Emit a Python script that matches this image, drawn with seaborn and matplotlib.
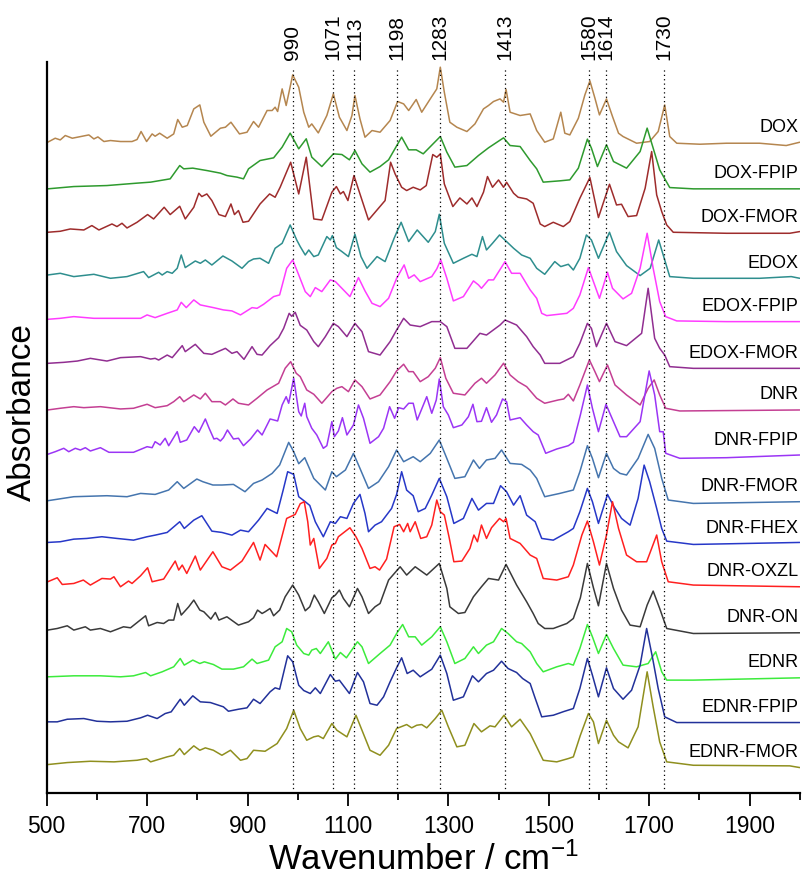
import numpy as np
import pandas as pd
import matplotlib
matplotlib.use("Agg")
import matplotlib.pyplot as plt
import seaborn as sns

# spectra: (wavenumber / cm-1, height above the trace baseline)
dox = [(502,0),(517,4),(527,2.3),(537,6.7),(551,4),(584,7.3),(594,3.3),(602,5.3),(614,0.7),(627,1.7),(647,0.7),(670,0.7),(680,2.7),(688,10.7),(699,0.7),(710,8.3),(716,6),(725,9),(740,4),(753,8.3),(761,22.7),(770,15),(780,16.7),(793,33.3),(805,37.3),(813,20),(827,6),(846,14),(856,15),(867,20),(884,8.3),(899,10),(912,20.7),(922,15),(939,31.7),(949,31.7),(955,35),(960,30.7),(969,53.3),(977,36.7),(990,67.3),(1002,55),(1012,30),(1022,15),(1028,18.3),(1041,9.3),(1058,26.7),(1071,48.3),(1083,25),(1098,11.7),(1108,26.7),(1114,46.7),(1124,23.3),(1134,5),(1148,11.7),(1164,10),(1184,21.7),(1199,40.7),(1211,38.3),(1221,31.7),(1236,42.7),(1247,30),(1264,43.3),(1277,53.3),(1284,75),(1292,50),(1303,20),(1317,15),(1337,10.7),(1353,18.3),(1370,33.3),(1380,36.7),(1390,40.7),(1403,43.3),(1410,40),(1415,52.7),(1423,30),(1443,26.7),(1463,28.3),(1476,11.7),(1492,0),(1509,3.3),(1524,30),(1532,9),(1542,7.3),(1559,24),(1572,47.3),(1582,61.3),(1592,44),(1601,27.3),(1615,43.3),(1627,25.7),(1639,9),(1648,5.7),(1675,-1),(1701,0.7),(1718,10.7),(1731,37.3),(1741,5.7),(1755,-1),(1801,-2),(1854,-1),(1920,-1),(1973,-3.3),(2000,0)]
dox_fpip = [(502,0),(554,2.3),(620,3.3),(680,5.7),(707,6.7),(746,10),(765,23.3),(773,20),(791,20.7),(819,18.3),(846,15.7),(859,13.3),(879,11.7),(892,10),(902,20),(925,28.3),(952,31),(969,41.7),(985,55.7),(1002,40),(1017,50),(1028,31.7),(1048,22.3),(1071,35),(1088,34.3),(1103,29),(1114,38.3),(1128,25),(1144,16.7),(1164,22.3),(1181,29),(1207,51.7),(1221,39),(1236,39),(1250,35),(1284,52.3),(1297,36.7),(1313,21.7),(1337,23.3),(1360,33.3),(1380,41),(1410,51),(1423,43.3),(1443,42.3),(1463,28.3),(1476,20),(1489,6.7),(1522,8),(1542,9),(1559,20.7),(1577,49.7),(1585,40.7),(1597,22.3),(1615,44),(1629,27.3),(1655,20.7),(1682,37.3),(1696,60.7),(1708,40.7),(1721,19),(1741,1.3),(1788,0),(1980,0),(2000,0)]
dox_fmor = [(502,0),(527,1),(547,3.3),(574,2.3),(590,6.7),(604,2.3),(630,8.3),(640,5.7),(650,9),(660,4.3),(680,10),(701,17.7),(713,13.3),(734,25),(746,17.7),(765,26),(776,13.3),(793,25),(803,39),(809,35.7),(819,38.3),(829,31.7),(843,17.7),(856,15.7),(867,28.3),(874,17.7),(882,21.7),(891,10),(902,11),(925,28.3),(944,38.3),(955,35),(965,45),(986,70),(1002,38.3),(1017,75),(1032,13.3),(1048,12.3),(1068,40),(1077,45.7),(1085,38.3),(1091,40.7),(1100,31.7),(1112,56.7),(1124,38.3),(1141,12.3),(1158,22.3),(1174,31.7),(1185,70),(1194,58.3),(1207,45),(1217,41.7),(1230,45),(1244,42.3),(1256,46.7),(1269,77.7),(1277,75),(1284,78.3),(1292,48.3),(1309,25.7),(1323,34.3),(1337,28.3),(1347,34.3),(1357,25.7),(1370,40),(1378,55.7),(1388,45),(1400,52.3),(1410,45),(1416,50),(1430,39),(1439,35),(1456,33.3),(1469,29),(1483,8.3),(1492,5.7),(1509,10),(1529,5.7),(1542,10.7),(1562,34),(1582,54.7),(1599,14.7),(1621,48),(1635,27.3),(1645,28),(1658,15.7),(1675,16.7),(1692,44),(1705,80.7),(1715,37.3),(1725,20.7),(1735,7.3),(1748,0),(1854,-1),(1980,-1),(2000,0.7)]
edox = [(502,3.3),(527,5),(554,1.7),(594,4),(627,0),(660,1.7),(693,6.7),(703,0.7),(723,6),(730,3.3),(740,6.7),(750,5),(760,10),(768,23.3),(776,10.7),(796,17.3),(806,15),(816,18.3),(829,13.3),(851,22.3),(869,17.3),(889,10),(902,16.7),(912,19.3),(925,20),(942,15),(955,30),(969,35),(985,53.3),(998,38.3),(1005,31.7),(1015,23.3),(1022,28.3),(1032,21.7),(1041,23.3),(1058,41.7),(1065,38.3),(1069,42.7),(1077,30.7),(1088,26.7),(1101,21.7),(1114,44),(1126,21.7),(1138,10),(1158,21.7),(1174,16.7),(1192,40),(1206,56),(1221,36.7),(1238,48.3),(1260,36),(1274,46.7),(1282,64),(1292,35),(1310,15),(1330,20),(1347,24),(1357,21.7),(1368,41.7),(1376,28.3),(1388,35),(1402,43.3),(1416,36.7),(1430,30),(1446,23.3),(1463,20),(1476,10),(1492,4),(1512,16.7),(1524,11.7),(1539,14),(1549,8.3),(1562,20),(1575,43.3),(1585,38.3),(1599,20),(1621,46),(1635,26.7),(1655,12.7),(1682,2.7),(1702,10),(1719,38.3),(1728,23.3),(1741,1.7),(1788,0),(1920,0),(1983,1.7),(2000,0)]
edox_fpip = [(502,2.3),(527,3.3),(554,5),(594,3.3),(660,3.3),(687,3.3),(700,6.7),(716,4),(740,8.3),(760,11.7),(768,19.3),(778,14),(793,21.7),(806,16.7),(832,14),(852,11.7),(869,10.7),(886,6.7),(909,14),(919,13.3),(932,17.3),(952,25),(964,26.7),(978,53.3),(990,61.7),(1002,46.7),(1015,30),(1025,25),(1035,34),(1048,30),(1065,41.7),(1075,40),(1088,33.3),(1104,25),(1121,44),(1134,30.7),(1148,18.3),(1164,15),(1181,23.3),(1197,43.3),(1212,56.7),(1221,43.3),(1232,46.7),(1244,40),(1267,45),(1277,52.7),(1285,61.7),(1297,43.3),(1310,20.7),(1330,25),(1350,40.7),(1360,36.7),(1366,33.3),(1380,41.7),(1390,41.7),(1413,60),(1426,48.3),(1443,48.3),(1463,31.7),(1476,23.3),(1486,8.3),(1496,6),(1536,8.3),(1549,13.3),(1562,26.7),(1579,54),(1589,40),(1601,23.3),(1617,49.3),(1627,33.3),(1648,22.7),(1665,28.3),(1682,53.3),(1696,88.3),(1708,53.3),(1721,20),(1733,5),(1755,0.7),(1854,0),(2000,0)]
edox_fmor = [(502,5),(534,6),(561,7.3),(587,10),(620,7.3),(647,10.7),(687,11.7),(707,9.3),(716,10),(723,8.3),(740,13.3),(750,10.7),(770,22.7),(776,16.7),(796,24),(813,15),(829,14),(856,20),(869,15),(879,16.7),(893,9),(909,21.7),(919,14),(929,13.3),(945,22.7),(962,30.7),(972,40),(983,55),(988,52),(995,56),(1005,43),(1018,38.3),(1032,26.7),(1041,21.7),(1055,31.7),(1071,45),(1081,41.7),(1098,31.7),(1114,45),(1128,36.7),(1141,16.7),(1164,13.3),(1184,26.7),(1197,38.3),(1211,50),(1224,43.3),(1244,41.7),(1267,46.7),(1284,46.7),(1297,41.7),(1313,20),(1337,20),(1363,35),(1376,33.3),(1403,43.3),(1413,48.3),(1436,43.3),(1456,31.7),(1469,21.7),(1483,13.3),(1492,5),(1522,5),(1549,11.7),(1562,25),(1577,45),(1585,40),(1595,21.7),(1615,45),(1632,26.7),(1655,22.7),(1685,35),(1698,80),(1711,30),(1721,20),(1731,13.3),(1741,1.7),(1788,0),(2000,0)]
dnr = [(502,0),(527,1.7),(554,3.3),(574,2.3),(607,3.3),(647,1),(673,1.7),(700,5.7),(716,2.3),(740,4.3),(753,8.3),(765,13.3),(773,8.3),(793,15),(806,11),(816,16.7),(829,8.3),(846,8.3),(856,5),(871,11),(882,6.7),(902,5),(919,11.7),(939,20),(962,26.7),(975,41.7),(986,48.3),(997,36.7),(1005,33.3),(1018,20),(1032,15.7),(1048,6.7),(1068,18.3),(1078,21.7),(1088,23.3),(1101,18.3),(1114,30),(1128,23.3),(1144,11),(1164,15),(1184,28.3),(1197,39),(1211,45.7),(1221,38.3),(1230,38.3),(1244,28.3),(1260,33.3),(1274,41.7),(1284,52.3),(1295,31.7),(1310,16.7),(1333,15),(1353,26.7),(1366,31.7),(1376,26.7),(1393,35),(1410,46.7),(1423,35),(1439,28.3),(1456,23.3),(1476,11.7),(1492,6.7),(1519,10),(1530,11),(1539,15.7),(1549,9),(1562,25),(1581,50),(1592,38.3),(1601,28.3),(1617,45),(1632,25),(1655,15),(1682,5),(1698,21.7),(1710,30),(1721,15),(1733,1.7),(1761,-1),(2000,0)]
dnr_fpip = [(502,1.7),(517,4.3),(534,7.7),(544,4.3),(557,7.7),(567,6),(577,8.3),(587,5),(607,8.3),(624,3.7),(647,3.7),(673,3.7),(700,9.3),(710,8.3),(716,14.3),(726,11),(736,17.7),(743,10.3),(760,24.3),(766,13.7),(779,16),(794,29.3),(803,23.7),(816,37),(823,28.3),(833,17),(839,17.7),(846,15),(852,18.3),(860,26),(872,17),(882,17.7),(892,10.3),(906,17),(920,26),(929,21),(945,37),(960,35),(969,51),(977,59.3),(982,52.7),(992,77.7),(1002,44.3),(1007,40),(1014,52.7),(1018,39.3),(1028,27.7),(1038,21),(1051,7.7),(1058,10.3),(1068,34.3),(1073,19.3),(1081,25),(1089,38.3),(1098,21),(1111,31),(1121,51),(1131,37.7),(1144,12.7),(1161,19.3),(1171,27.7),(1183,49.3),(1193,37.7),(1201,48.3),(1211,47),(1221,52.7),(1230,52.7),(1238,36),(1247,47),(1257,59.3),(1267,42.7),(1276,56),(1282,77),(1290,49.3),(1300,41),(1310,28.3),(1327,31),(1340,39.3),(1349,51.7),(1357,34.3),(1366,34.7),(1376,48.3),(1386,33.7),(1396,41),(1408,57),(1416,54.3),(1423,36),(1443,38.3),(1456,31),(1469,24.3),(1479,21),(1494,2.7),(1516,7),(1539,10.3),(1549,13.7),(1563,41),(1577,71),(1587,47.7),(1599,24.3),(1614,51.7),(1629,34.3),(1642,19.3),(1655,19.3),(1682,34.3),(1700,85),(1711,61),(1721,24.3),(1728,24.3),(1733,2.7),(1761,-2.3),(1854,-1.7),(2000,1)]
dnr_fmor = [(502,1),(554,5),(620,6),(660,5),(687,8.3),(716,7.3),(743,11.7),(760,20),(773,13.3),(799,22.7),(811,20),(831,16.7),(849,16.7),(872,17.3),(895,10),(912,18.3),(929,21.7),(949,28.3),(964,36.7),(982,59.3),(992,50),(1002,38),(1014,44),(1032,23.3),(1055,11.7),(1068,30),(1077,25),(1095,31.7),(1111,48.3),(1124,33.3),(1141,13.3),(1161,20),(1181,35),(1197,51.7),(1211,40),(1230,45),(1244,40),(1264,48.3),(1282,61.7),(1297,43.3),(1313,23.3),(1333,25),(1350,41.7),(1362,33.3),(1376,41.7),(1393,43.3),(1406,51.7),(1423,38.3),(1446,37.3),(1463,31.7),(1476,23.3),(1492,5),(1522,8.3),(1549,11.7),(1562,30),(1577,56),(1587,43.3),(1599,24),(1615,48.3),(1629,33.3),(1642,28.3),(1655,26.7),(1678,43.3),(1698,67.3),(1711,53.3),(1725,23.3),(1738,1.7),(1788,-1.7),(2000,0)]
dnr_fhex = [(502,1),(527,1.7),(554,4.3),(580,5),(610,6.7),(640,5),(673,3.3),(700,6.7),(716,8.3),(740,11),(765,21.7),(774,15),(793,23.3),(809,27.7),(829,12.3),(849,11),(869,8.3),(886,13.3),(902,11.7),(922,23.3),(939,35),(959,30),(971,53.3),(980,71.7),(992,69),(1002,46.7),(1015,41.7),(1024,38),(1035,21.7),(1051,6.7),(1065,21.7),(1075,20),(1085,26.7),(1098,25),(1111,40),(1124,49),(1134,30),(1141,11.7),(1154,18.3),(1167,21.7),(1187,35),(1197,49),(1207,71.7),(1217,53.3),(1230,47.7),(1240,31.7),(1254,35),(1267,48.3),(1282,65),(1297,46.7),(1311,20),(1330,25),(1347,45),(1360,33.3),(1376,40),(1390,40),(1404,57.7),(1416,51.7),(1430,38.3),(1443,47.7),(1456,28.3),(1473,21.7),(1486,5),(1509,3.3),(1539,11.7),(1549,15),(1562,31.7),(1577,55),(1587,41.7),(1599,20),(1617,49),(1630,36.7),(1645,25),(1662,18.3),(1678,45),(1690,78.3),(1701,61.7),(1715,35),(1725,15),(1735,2.3),(1788,-1),(2000,1)]
dnr_oxzl = [(502,5),(521,9),(531,2.3),(554,3.3),(573,6.7),(587,1.7),(610,8.3),(627,7.7),(634,10),(647,0),(663,5.7),(670,3.3),(687,11),(701,19),(710,5),(733,7.7),(756,25.7),(763,16.7),(770,21.7),(779,13.3),(796,30.7),(806,16.7),(831,35),(849,20),(866,16.7),(889,25.7),(912,44.3),(925,26.7),(935,42.3),(958,30),(978,68.3),(995,72.3),(1005,83),(1013,85),(1020,65),(1025,41.7),(1032,48.3),(1043,18.3),(1058,28.3),(1068,41.7),(1075,43.3),(1081,50),(1104,59),(1116,50),(1128,38.3),(1144,18.3),(1154,20),(1163,16.7),(1177,27.7),(1192,60),(1203,62.3),(1211,55),(1219,63.3),(1224,55),(1234,65),(1245,48.3),(1257,50),(1267,61.7),(1277,86.7),(1284,75),(1292,71.7),(1302,48.3),(1311,25),(1327,25.7),(1343,38.3),(1351,51.7),(1358,45),(1366,61.7),(1376,48.3),(1386,59),(1402,68.3),(1410,65),(1415,68.3),(1423,48.3),(1443,43.3),(1463,31.7),(1476,28.3),(1489,8.3),(1516,6.7),(1539,10),(1549,21.7),(1566,51.7),(1577,65.7),(1589,45),(1601,21.7),(1615,51.7),(1627,85),(1639,58.3),(1655,31.7),(1675,25),(1695,25),(1715,51.7),(1725,25),(1738,5),(1788,1.7),(2000,0)]
dnr_on = [(502,2.7),(521,4.3),(541,7),(554,2.7),(577,6),(587,2.7),(607,4.3),(627,1),(653,6),(667,5),(697,17),(703,7),(720,10.3),(733,9.3),(743,12.7),(753,12.7),(761,29.3),(768,17.7),(774,21),(783,26),(793,32.7),(805,22.7),(813,21),(827,13.7),(836,20.3),(843,12.7),(859,16),(882,7.7),(902,11),(912,15),(920,22.7),(929,19.3),(935,21),(945,24.3),(952,17),(964,22.7),(975,36),(990,47.7),(1002,37.7),(1015,22),(1024,26),(1033,37.7),(1041,31),(1053,19.3),(1068,35),(1075,37.7),(1083,42.7),(1091,34.3),(1103,26),(1119,44.3),(1128,36),(1141,19.3),(1154,26),(1164,29.3),(1181,52.7),(1204,66),(1217,57.7),(1234,66),(1257,57.7),(1282,69.3),(1297,44.3),(1303,26),(1320,19.3),(1333,20.3),(1350,36),(1366,46),(1380,54.3),(1400,52.7),(1415,68.3),(1436,47.7),(1456,31),(1469,19.3),(1479,9.3),(1492,4.3),(1509,4.3),(1536,9.3),(1549,14.3),(1563,35),(1577,69.3),(1589,45),(1599,27),(1615,69.3),(1629,44.3),(1645,22.7),(1662,7.7),(1682,6),(1696,27.7),(1708,41.7),(1721,24.3),(1735,4.3),(1788,-0.7),(2000,0)]
ednr = [(502,1),(554,2),(607,2),(647,1),(673,2),(697,5.3),(707,2),(730,6),(753,11),(766,19.3),(774,12.7),(791,17.7),(805,14.3),(814,16),(832,13.3),(849,8.7),(872,8.7),(892,11),(909,18.7),(919,14.3),(942,17.7),(955,31),(969,36),(978,49.3),(988,46),(998,32.7),(1012,24.3),(1022,22.7),(1028,27.7),(1037,29.3),(1045,24.3),(1061,36),(1075,18.7),(1085,25.3),(1097,20),(1119,36),(1128,31),(1141,14.3),(1164,24.3),(1184,32.7),(1197,44.3),(1209,53.3),(1221,41),(1234,41),(1247,32.7),(1267,41),(1284,51),(1297,36),(1313,14.3),(1333,19.3),(1350,31),(1360,24.3),(1376,32.7),(1390,36),(1406,49.3),(1419,44.3),(1436,36),(1446,34.3),(1463,26),(1476,14.3),(1489,6),(1516,11),(1539,14.3),(1549,12.7),(1562,29.3),(1577,53.3),(1587,41),(1599,24.3),(1615,43.3),(1629,29.3),(1648,12.7),(1675,11),(1698,14.3),(1713,26),(1725,6),(1735,-2.3),(1788,-2.3),(2000,0)]
ednr_fpip = [(502,0.7),(521,0.7),(541,3.3),(574,4),(600,1.3),(627,0.7),(660,1.3),(687,4.7),(701,7.3),(720,4),(736,9),(748,10.7),(766,23.3),(774,17.3),(791,26.7),(806,20.7),(826,20),(852,15.7),(862,11.3),(882,13.3),(899,14.7),(912,23.3),(925,19),(945,30.7),(955,34.7),(964,33.3),(980,66.7),(990,60.7),(1002,37.3),(1012,32),(1025,29),(1035,34.7),(1045,29),(1065,48),(1075,41.3),(1083,42.3),(1103,29),(1119,50),(1131,40.7),(1144,19),(1158,17.3),(1171,25.7),(1184,40.7),(1197,54.7),(1207,64.7),(1218,49),(1230,52.3),(1244,45.7),(1267,53.3),(1284,67.3),(1297,49),(1310,22.3),(1330,25.7),(1348,46.7),(1360,40.7),(1376,49),(1390,52.3),(1406,61.3),(1419,54),(1436,50),(1448,44),(1463,39),(1472,25.7),(1486,5.7),(1509,7.3),(1530,11),(1549,14),(1562,34),(1577,64),(1587,47.3),(1599,25.7),(1615,54.7),(1629,34),(1648,23.3),(1665,32.3),(1682,57.3),(1695,94),(1707,64),(1718,34),(1731,5.7),(1755,0),(2000,0)]
ednr_fmor = [(502,3),(541,5),(587,6.3),(634,5.7),(680,7.3),(699,9),(707,5.7),(740,10.7),(753,12.3),(765,19),(774,13),(793,21.7),(805,17.3),(816,19.7),(832,17.3),(849,12.3),(866,17.3),(886,7.3),(899,9),(912,17.3),(935,16.3),(959,24),(978,39),(992,57.3),(1005,39),(1018,27.3),(1032,30.7),(1041,31.7),(1051,29),(1068,44),(1078,37.3),(1098,30.7),(1116,52.3),(1128,37.3),(1144,17.3),(1164,12.3),(1181,22.3),(1197,39),(1217,43),(1227,39.7),(1237,42.3),(1247,43),(1257,39.7),(1274,49),(1287,57.3),(1300,40.7),(1317,20.7),(1333,22.3),(1351,44),(1366,35.7),(1383,41.7),(1393,40.7),(1411,52.3),(1426,40.7),(1443,48.3),(1463,34),(1476,20.7),(1489,7.3),(1516,5.7),(1539,9),(1549,10.7),(1563,32.3),(1579,54),(1589,45.7),(1599,24),(1615,47.3),(1629,32.3),(1639,25.7),(1658,19.7),(1678,40.7),(1696,95.7),(1708,60.7),(1721,25.7),(1735,5.7),(1788,2.3),(1980,1.7),(2000,0)]

samples = ["DOX", "DOX-FPIP", "DOX-FMOR", "EDOX", "EDOX-FPIP", "EDOX-FMOR", "DNR",
           "DNR-FPIP", "DNR-FMOR", "DNR-FHEX", "DNR-OXZL", "DNR-ON", "EDNR",
           "EDNR-FPIP", "EDNR-FMOR"]
spectra = [dox, dox_fpip, dox_fmor, edox, edox_fpip, edox_fmor, dnr, dnr_fpip,
           dnr_fmor, dnr_fhex, dnr_oxzl, dnr_on, ednr, ednr_fpip, ednr_fmor]
# vertical stacking offset of each trace (same units as the heights)
offsets = [650.3, 603.7, 560.3, 514.3, 471.0, 424.3, 382.7, 336.7, 291.0,
           249.3, 206.0, 160.0, 115.0, 70.3, 25.3]
colors = ["#B5864F", "#2E9A2E", "#9E2C2C", "#2E8E8E", "#FF3CFF", "#912E91",
          "#C43F93", "#9B35F5", "#4575AE", "#2738C8", "#FF2020", "#3A3A3A",
          "#3CEB3C", "#22319A", "#8F8F1E"]
peaks = [990, 1071, 1113, 1198, 1283, 1413, 1580, 1614, 1730]

# long table for seaborn
rows = []
for name, spec, off in zip(samples, spectra, offsets):
    for wn, h in spec:
        rows.append((name, wn, h + off))
df = pd.DataFrame(rows, columns=["sample", "wavenumber", "absorbance"])

sns.set_style("ticks", {"axes.edgecolor": "black", "text.color": "black",
                        "axes.labelcolor": "black", "xtick.color": "black"})
plt.rcParams["font.family"] = ["Liberation Sans", "DejaVu Sans"]
plt.rcParams["mathtext.fontset"] = "custom"
plt.rcParams["mathtext.rm"] = "Liberation Sans"
plt.rcParams["mathtext.default"] = "regular"

fig = plt.figure(figsize=(8.05, 8.8), dpi=100)
ax = fig.add_axes([0.058, 0.099, 0.9355, 0.83])

sns.lineplot(data=df, x="wavenumber", y="absorbance", hue="sample",
             hue_order=samples, palette=dict(zip(samples, colors)),
             estimator=None, legend=False, linewidth=1.1, ax=ax)

ax.vlines(peaks, 0, 724, colors="black", linestyles=(0, (1, 2.5)), linewidth=0.9)
for p in peaks:
    ax.text(p, 732, str(p), rotation=90, ha="center", va="bottom",
            fontsize=15, clip_on=False)

for name, off in zip(samples, offsets):
    ax.text(1997, off + 15, name, ha="right", va="center", fontsize=13)

ax.set_xlim(500, 2000)
ax.set_ylim(0, 730)
ax.set_xticks(range(500, 2000, 200))
ax.set_xticks(range(600, 2001, 200), minor=True)
ax.set_yticks([])
ax.tick_params(axis="x", which="major", length=9, width=1.3, labelsize=16.5, pad=7)
ax.tick_params(axis="x", which="minor", length=5, width=1.3)
for s in ["top", "right"]:
    ax.spines[s].set_visible(False)
for s in ["left", "bottom"]:
    ax.spines[s].set_linewidth(1.6)

ax.set_xlabel("Wavenumber / cm$^{-1}$", fontsize=25, labelpad=3)
ax.set_ylabel("Absorbance", fontsize=24)
ax.yaxis.set_label_coords(-0.012, 0.522)

fig.savefig("out.png", dpi=100)
